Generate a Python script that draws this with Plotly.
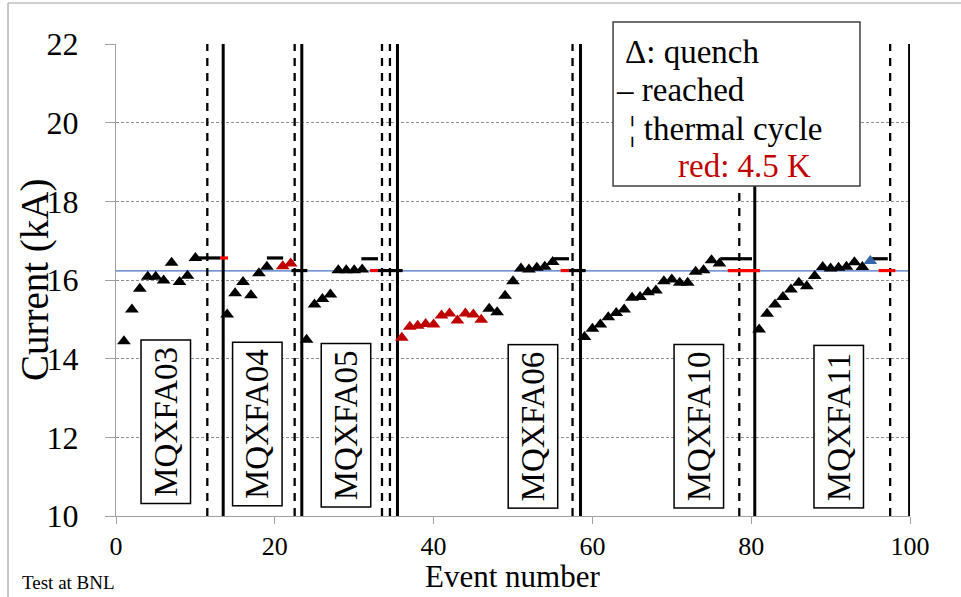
import plotly.graph_objects as go

# ---------------- data ----------------
magnet_names = ["MQXFA03", "MQXFA04", "MQXFA05", "MQXFA06", "MQXFA10", "MQXFA11"]
label_x = [6.33, 17.78, 28.92, 52.54, 73.43, 91.05]
label_y = [12.39, 12.33, 12.31, 12.27, 12.27, 12.27]

# quenches at 1.9 K (black)
quench_19K_event = [1, 2, 3, 4, 5, 6, 7, 8, 9, 10,
                    14, 15, 16, 17, 18, 19,
                    24, 25, 26, 27, 28, 29, 30, 31,
                    47, 48, 49, 50, 51, 52, 53, 54, 55,
                    59, 60, 61, 62, 63, 64, 65, 66, 67, 68, 69, 70, 71, 72, 73, 74, 75, 76,
                    81, 82, 83, 84, 85, 86, 87, 88, 89, 90, 91, 92, 93, 94]
quench_19K_current = [14.44, 15.25, 15.78, 16.08, 16.08, 15.99, 16.44, 15.95, 16.11, 16.56,
                      15.12, 15.66, 15.95, 15.61, 16.17, 16.34,
                      14.48, 15.38, 15.52, 15.63, 16.25, 16.25, 16.25, 16.27,
                      15.27, 15.18, 15.60, 15.97, 16.29, 16.27, 16.31, 16.34, 16.46,
                      14.55, 14.76, 14.87, 15.05, 15.16, 15.25, 15.55, 15.57, 15.69, 15.73,
                      15.97, 16.01, 15.93, 15.93, 16.21, 16.25, 16.50, 16.42,
                      14.74, 15.14, 15.38, 15.57, 15.76, 15.93, 15.84, 16.10, 16.33, 16.29,
                      16.31, 16.34, 16.45, 16.33]

# quenches at 4.5 K (red)
quench_45K_event = [21, 22, 36, 37, 38, 39, 40, 41, 42, 43, 44, 45, 46]
quench_45K_current = [16.35, 16.42, 14.53, 14.81, 14.84, 14.88, 14.87, 15.10, 15.15,
                      14.97, 15.15, 15.12, 14.99]

# other quench (blue)
quench_other_event = [95]
quench_other_current = [16.48]

# reached current (no quench): start event, end event, current, temperature
reached_start = [10.2, 13.1, 19.0, 22.1, 30.9, 32.0, 33.0, 55.1, 56.0, 57.05, 76.1, 77.05, 95.1, 96.05]
reached_end = [13.1, 14.1, 21.05, 24.1, 33.0, 33.0, 36.1, 57.05, 57.05, 59.15, 80.1, 81.1, 97.2, 98.15]
reached_current = [16.56, 16.56, 16.56, 16.24, 16.54, 16.24, 16.24, 16.54, 16.24, 16.24, 16.54, 16.24, 16.54, 16.24]
reached_temp = ["1.9", "4.5", "1.9", "1.9", "1.9", "4.5", "1.9", "1.9", "4.5", "1.9", "1.9", "4.5", "1.9", "4.5"]

thermal_cycle_x = [11.5, 22.5, 33.5, 34.5, 57.5, 78.5, 97.5]
magnet_change_x = [13.5, 23.4, 35.45, 58.5, 80.45, 99.95]

nominal_current = 16.23

x_ticks = [0, 20, 40, 60, 80, 100]
y_ticks = [10, 12, 14, 16, 18, 20, 22]

# ---------------- figure ----------------
FONT = "Liberation Serif, Times New Roman, serif"
fig = go.Figure()

def vlines(xs):
    xx, yy = [], []
    for v in xs:
        xx += [v, v, None]
        yy += [10, 22, None]
    return xx, yy

# nominal current line
fig.add_trace(go.Scatter(x=[0, 100], y=[nominal_current, nominal_current], mode="lines",
                         line=dict(color="#4472C4", width=1.2), hoverinfo="skip"))

# thermal cycles (dashed)
vx, vy = vlines(thermal_cycle_x)
fig.add_trace(go.Scatter(x=vx, y=vy, mode="lines",
                         line=dict(color="black", width=2.3, dash="8px,7px"), hoverinfo="skip"))
# magnet change (solid)
vx, vy = vlines(magnet_change_x)
fig.add_trace(go.Scatter(x=vx, y=vy, mode="lines",
                         line=dict(color="black", width=3), hoverinfo="skip"))

# reached segments
for temp, col in [("1.9", "black"), ("4.5", "#FF0000")]:
    sx, sy = [], []
    for s, e, c, t in zip(reached_start, reached_end, reached_current, reached_temp):
        if t == temp:
            sx += [s, e, None]
            sy += [c, c, None]
    fig.add_trace(go.Scatter(x=sx, y=sy, mode="lines",
                             line=dict(color=col, width=3.2), hoverinfo="skip"))

# quenches
fig.add_trace(go.Scatter(x=quench_19K_event, y=quench_19K_current, mode="markers",
                         marker=dict(symbol="triangle-up", size=12, color="black")))
fig.add_trace(go.Scatter(x=quench_45K_event, y=quench_45K_current, mode="markers",
                         marker=dict(symbol="triangle-up", size=12, color="#C00000")))
fig.add_trace(go.Scatter(x=quench_other_event, y=quench_other_current, mode="markers",
                         marker=dict(symbol="triangle-up", size=12, color="#3566A8")))

annotations = []
for name, lx, ly in zip(magnet_names, label_x, label_y):
    annotations.append(dict(x=lx, y=ly, xref="x", yref="y", text=name, textangle=-90,
                            showarrow=False, font=dict(family=FONT, size=33, color="black"),
                            bordercolor="black", borderwidth=1.5, borderpad=6, bgcolor="white"))

# legend text
leg = [("\u0394: quench", 0.6385, 0.983, "black"),
       ("\u2013 reached", 0.627, 0.9025, "black"),
       ("\u00a6 thermal cycle", 0.6436, 0.820, "black"),
       ("red: 4.5 K", 0.7053, 0.7415, "#C00000")]
for t, x, y, c in leg:
    annotations.append(dict(x=x, y=y, xref="paper", yref="paper", text=t, showarrow=False,
                            xanchor="left", yanchor="middle",
                            font=dict(family=FONT, size=33, color=c)))

# axis titles
annotations.append(dict(x=0.4994, y=-0.1292, xref="paper", yref="paper", text="Event number",
                        showarrow=False, xanchor="center", yanchor="middle",
                        font=dict(family=FONT, size=31, color="black")))
annotations.append(dict(x=-0.102, y=0.5, xref="paper", yref="paper", text="Current (kA)",
                        showarrow=False, xanchor="center", yanchor="middle", textangle=-90,
                        font=dict(family=FONT, size=39, color="black")))
annotations.append(dict(x=-0.1209, y=-0.1409, xref="paper", yref="paper", text="Test at BNL",
                        showarrow=False, xanchor="left", yanchor="middle",
                        font=dict(family=FONT, size=19, color="black")))

shapes = [
    # legend box
    dict(type="rect", xref="paper", yref="paper", x0=0.626, x1=0.937, y0=0.699, y1=1.0466,
         line=dict(color="#404040", width=1.5), fillcolor="white", layer="above"),
    # outer frame
    dict(type="line", xref="paper", yref="paper", x0=-0.136, x1=-0.136, y0=1.0869, y1=-0.25,
         line=dict(color="#A0A0A0", width=1.2)),
    dict(type="line", xref="paper", yref="paper", x0=-0.136, x1=1.2, y0=1.0869, y1=1.0869,
         line=dict(color="#A0A0A0", width=1.2)),
]

fig.update_layout(
    width=961, height=597,
    margin=dict(l=116, r=51, t=44, b=81),
    paper_bgcolor="white", plot_bgcolor="white",
    showlegend=False,
    font=dict(family=FONT, color="black"),
    annotations=annotations,
    shapes=shapes,
    xaxis=dict(range=[0, 100], tickvals=x_ticks, showgrid=False, zeroline=False,
               showline=True, linecolor="#A0A0A0", linewidth=1.3,
               ticks="outside", ticklen=7, tickcolor="#A0A0A0",
               tickfont=dict(family=FONT, size=26, color="black"), ticklabelstandoff=0),
    yaxis=dict(range=[10, 22], tickvals=y_ticks, showgrid=True, gridcolor="#909090",
               griddash="3px,2px", gridwidth=1, zeroline=False,
               showline=True, linecolor="#A0A0A0", linewidth=1.3,
               ticks="outside", ticklen=10, tickcolor="#A0A0A0",
               tickfont=dict(family=FONT, size=32, color="black"), ticklabelstandoff=20),
)

fig.write_html("out.html", config={"displayModeBar": False},
               post_script="document.body.style.margin='0px';document.body.style.overflow='hidden';")
